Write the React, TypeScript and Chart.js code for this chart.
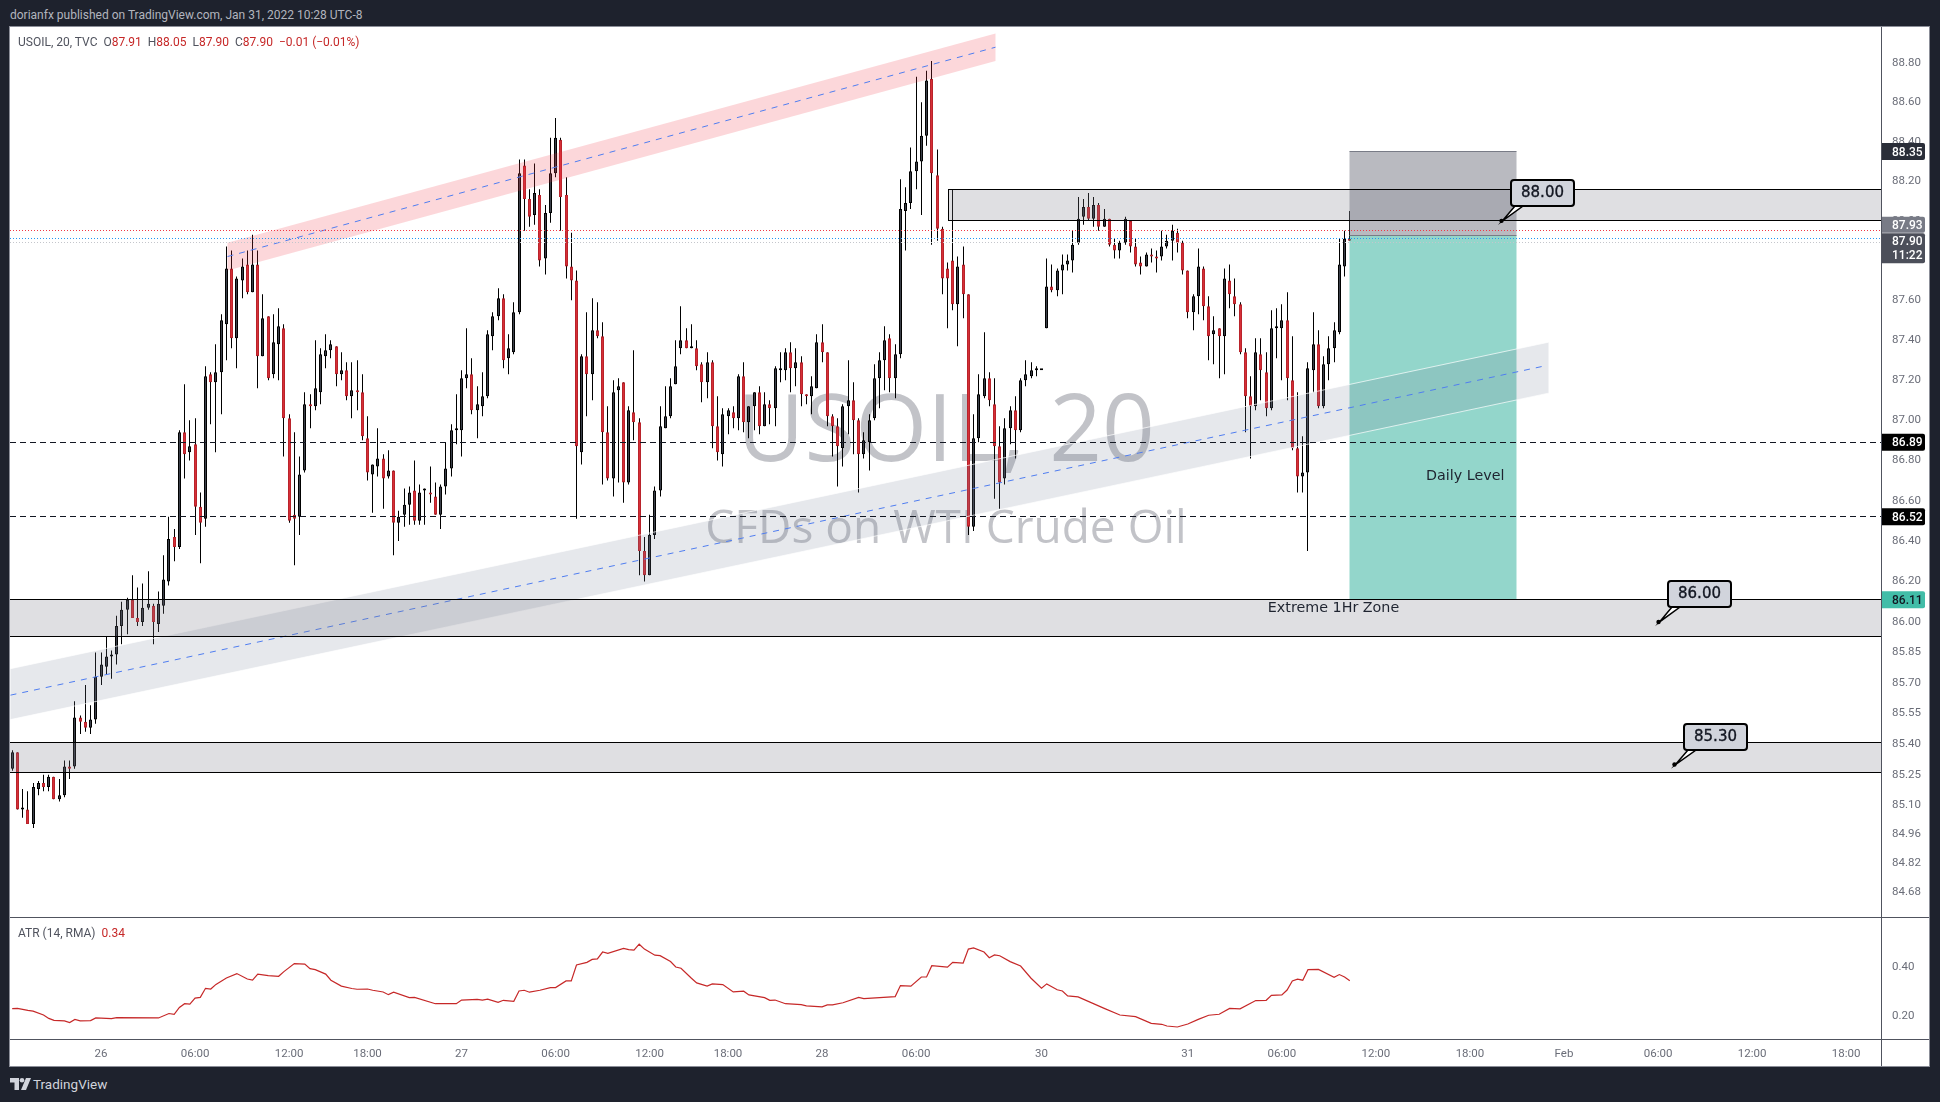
import { useEffect, useRef } from "react";
import { Chart, registerables } from "chart.js";

Chart.register(...registerables);

// 20 minute USOIL candles
const opens = [
  85.28,85.36,85.08,85.08,85.01,85.18,85.21,85.19,85.24,85.13,
  85.15,85.29,85.29,85.53,85.51,85.48,85.52,85.73,85.78,85.83,
  85.84,85.98,86.06,86.11,86.02,86.00,86.07,86.08,85.99,86.08,
  86.20,86.42,86.37,86.94,86.84,86.88,86.57,86.51,87.23,87.19,
  87.24,87.48,87.76,87.41,87.70,87.78,87.64,87.78,87.32,87.52,
  87.23,87.38,87.46,87.01,86.53,86.52,86.75,87.08,87.07,87.14,
  87.32,87.35,87.37,87.23,87.25,87.12,87.15,87.14,86.91,86.73,
  86.77,86.81,86.72,86.75,86.49,86.53,86.58,86.65,86.50,86.65,
  86.64,86.62,86.53,86.67,86.76,86.95,86.95,87.21,87.23,87.05,
  87.07,87.12,87.42,87.52,87.61,87.31,87.34,87.54,88.28,88.11,
  88.03,88.13,87.81,88.04,88.24,88.41,88.13,87.77,87.70,86.84,
  87.32,87.23,87.45,87.42,86.94,86.71,87.15,87.19,86.69,87.04,
  86.99,86.35,86.23,86.43,86.65,86.96,87.02,87.18,87.36,87.40,
  87.36,87.36,87.28,87.19,87.29,86.97,86.83,87.02,87.04,87.01,
  87.22,86.99,87.07,87.14,86.97,87.08,87.06,87.25,87.25,87.34,
  87.26,87.29,87.13,87.12,87.16,87.39,87.34,87.02,86.97,86.86,
  87.07,87.10,87.00,86.83,86.89,87.01,87.21,87.30,87.41,87.21,
  87.33,88.05,88.09,88.25,88.30,88.43,88.72,88.23,87.96,87.76,
  87.80,87.58,87.78,87.63,86.47,86.91,87.12,87.21,87.08,86.87,
  86.71,86.96,87.05,86.95,87.20,87.22,87.25,87.25,87.46,87.67,
  87.65,87.75,87.78,87.80,87.89,88.02,88.07,88.01,88.08,87.97,
  88.01,87.88,87.85,87.89,88.00,87.87,87.79,87.77,87.83,87.82,
  87.82,87.87,87.90,87.94,87.89,87.75,87.54,87.62,87.76,87.57,
  87.43,87.46,87.42,87.70,87.62,87.58,87.34,87.12,87.07,87.33,
  87.24,87.06,87.46,87.46,87.50,87.20,86.86,86.72,86.74,87.25,
  87.38,87.07,87.28,87.36,87.44,87.77,87.91,
];
const highs = [
  85.37,85.36,85.18,85.17,85.21,85.22,85.25,85.25,85.24,85.23,
  85.32,85.32,85.61,85.54,85.69,85.59,85.85,85.85,85.93,85.86,
  86.03,86.10,86.12,86.23,86.17,86.19,86.25,86.09,86.15,86.33,
  86.52,86.46,86.95,87.18,87.00,87.01,86.64,87.27,87.24,87.38,
  87.53,87.87,87.85,87.72,87.81,87.85,87.93,87.85,87.63,87.52,
  87.53,87.56,87.48,87.03,86.94,86.82,87.14,87.13,87.40,87.36,
  87.43,87.40,87.37,87.34,87.29,87.29,87.30,87.23,87.02,86.78,
  86.96,86.83,86.85,86.75,86.55,86.66,86.67,86.80,86.68,86.66,
  86.77,86.69,86.68,86.89,86.98,87.13,87.25,87.46,87.31,87.17,
  87.24,87.45,87.54,87.66,87.63,87.43,87.59,88.31,88.31,88.16,
  88.29,88.16,88.08,88.42,88.52,88.42,88.22,87.94,87.75,87.33,
  87.54,87.61,87.59,87.49,87.07,87.20,87.21,87.19,87.07,87.35,
  87.01,86.42,86.53,86.67,87.07,87.17,87.21,87.40,87.57,87.46,
  87.48,87.40,87.29,87.34,87.30,87.12,87.06,87.06,87.07,87.23,
  87.29,87.07,87.14,87.17,87.14,87.10,87.27,87.34,87.36,87.39,
  87.36,87.32,87.13,87.22,87.43,87.48,87.34,87.03,87.01,87.08,
  87.30,87.19,87.01,86.94,87.03,87.28,87.34,87.47,87.43,87.38,
  88.21,88.17,88.37,88.73,88.60,88.76,88.81,88.36,87.97,87.79,
  88.16,87.82,87.87,87.63,87.03,87.23,87.44,87.24,87.21,86.97,
  87.01,87.07,87.12,87.21,87.30,87.29,87.27,87.25,87.81,87.78,
  87.76,87.83,87.83,87.95,88.12,88.11,88.14,88.12,88.09,88.06,
  88.01,87.91,87.90,88.02,88.00,87.91,87.82,87.84,87.86,87.85,
  87.95,87.93,87.98,87.96,87.90,87.75,87.63,87.86,87.77,87.62,
  87.52,87.46,87.76,87.78,87.71,87.59,87.36,87.22,87.41,87.41,
  87.34,87.55,87.56,87.58,87.64,87.42,87.14,86.92,87.29,87.54,
  87.45,87.32,87.42,87.49,87.91,87.95,88.05,
];
const lows = [
  85.27,85.08,85.04,85.01,84.99,85.15,85.17,85.17,85.13,85.12,
  85.14,85.23,85.28,85.45,85.46,85.45,85.50,85.69,85.74,85.72,
  85.79,85.89,85.94,86.02,85.98,85.98,86.06,85.89,85.95,86.04,
  86.18,86.30,86.36,86.71,86.80,86.43,86.29,86.47,86.98,86.84,
  87.03,87.30,87.36,87.26,87.61,87.63,87.64,87.16,87.32,87.20,
  87.21,87.20,86.82,86.49,86.28,86.43,86.74,86.96,87.05,87.08,
  87.26,87.31,87.17,87.20,87.10,87.01,87.05,86.90,86.70,86.54,
  86.72,86.56,86.71,86.33,86.40,86.47,86.48,86.48,86.48,86.48,
  86.59,86.53,86.46,86.63,86.72,86.88,86.82,87.16,87.03,86.91,
  87.02,87.11,87.35,87.50,87.26,87.23,87.33,87.53,87.95,87.97,
  87.98,87.77,87.73,87.99,88.22,87.95,87.71,87.60,86.51,86.78,
  87.02,87.10,87.41,86.68,86.70,86.62,86.69,86.59,86.68,86.90,
  86.23,86.20,86.23,86.41,86.62,86.96,87.01,87.18,87.33,87.36,
  87.36,87.25,87.09,87.11,86.86,86.80,86.77,86.93,86.96,86.95,
  86.94,86.91,86.95,86.93,86.97,86.98,86.97,87.19,87.20,87.14,
  87.17,87.07,87.08,87.03,87.16,87.29,86.97,86.82,86.67,86.77,
  86.93,86.83,86.64,86.81,86.75,87.00,87.06,87.15,87.14,87.11,
  87.31,87.85,88.06,88.16,88.03,88.38,87.88,87.90,87.63,87.46,
  87.55,87.37,87.51,86.43,86.45,86.89,87.11,87.07,86.61,86.56,
  86.68,86.88,86.81,86.94,87.17,87.21,87.22,87.25,87.46,87.64,
  87.62,87.63,87.75,87.74,87.88,87.98,88.00,87.97,87.95,87.97,
  87.87,87.81,87.81,87.88,87.84,87.77,87.73,87.77,87.79,87.74,
  87.80,87.86,87.80,87.84,87.73,87.51,87.45,87.53,87.50,87.30,
  87.28,87.21,87.23,87.56,87.52,87.33,86.94,86.81,87.05,87.10,
  87.02,87.05,87.31,87.20,87.10,86.85,86.64,86.64,86.35,87.14,
  87.06,87.06,87.20,87.29,87.43,87.72,87.90,
];
const closes = [
  85.36,85.08,85.09,85.01,85.19,85.21,85.19,85.24,85.13,85.15,
  85.29,85.28,85.53,85.51,85.48,85.52,85.73,85.79,85.83,85.84,
  85.98,86.06,86.11,86.02,86.00,86.07,86.09,86.00,86.09,86.21,
  86.41,86.37,86.94,86.83,86.87,86.57,86.49,87.22,87.19,87.24,
  87.50,87.76,87.41,87.71,87.77,87.64,87.78,87.32,87.51,87.21,
  87.39,87.47,87.01,86.50,86.51,86.73,87.08,87.07,87.16,87.33,
  87.35,87.38,87.23,87.25,87.12,87.15,87.14,86.92,86.74,86.78,
  86.81,86.71,86.75,86.49,86.52,86.58,86.64,86.50,86.64,86.65,
  86.63,86.53,86.67,86.76,86.95,86.95,87.21,87.23,87.05,87.08,
  87.12,87.43,87.52,87.61,87.30,87.36,87.54,88.24,88.11,88.02,
  88.14,87.80,88.04,88.24,88.42,88.12,87.77,87.70,86.87,87.32,
  87.23,87.45,87.42,86.94,86.71,87.14,87.17,86.69,87.05,86.99,
  86.35,86.23,86.43,86.65,86.97,87.02,87.17,87.27,87.40,87.36,
  87.37,87.27,87.19,87.29,86.97,86.84,87.03,87.05,87.01,87.22,
  86.99,87.07,87.14,86.97,87.08,87.06,87.26,87.25,87.34,87.26,
  87.29,87.13,87.12,87.17,87.39,87.34,87.02,86.97,86.87,87.07,
  87.10,87.00,86.83,86.90,87.00,87.21,87.30,87.40,87.21,87.33,
  88.06,88.09,88.25,88.30,88.43,88.71,88.24,87.96,87.71,87.71,
  87.58,87.77,87.63,86.47,86.91,87.13,87.21,87.10,86.87,86.69,
  86.96,87.05,86.95,87.20,87.23,87.25,87.25,87.25,87.67,87.65,
  87.75,87.78,87.80,87.88,88.01,88.07,88.01,88.08,87.97,88.01,
  87.88,87.85,87.89,88.01,87.87,87.78,87.77,87.83,87.82,87.81,
  87.87,87.90,87.95,87.89,87.75,87.54,87.62,87.77,87.57,87.42,
  87.45,87.42,87.71,87.63,87.58,87.34,87.12,87.07,87.34,87.25,
  87.06,87.46,87.46,87.50,87.21,86.86,86.72,86.74,87.26,87.38,
  87.07,87.28,87.36,87.45,87.78,87.91,87.90,
];

// ATR pane, vertices of the line as bar number / value
const atrBars = [
  0,1,3,4,6,7,8,10,11,12,13,15,16,19,20,28,30,31,32,33,34,35,36,37,38,39,41,43,45,46,47,49,51,52,54,56,57,58,60,61,
  63,65,66,68,69,71,72,73,76,77,81,85,86,89,90,91,93,94,96,97,98,99,101,103,104,106,107,108,110,111,112,113,114,117,118,119,120,121,123,124,
  126,127,128,130,131,133,134,136,138,140,141,144,145,146,148,151,152,155,156,157,159,162,163,169,170,172,174,175,176,179,180,182,183,184,186,187,188,189,191,193,
  195,197,198,200,201,202,204,209,212,215,218,220,221,223,225,227,229,231,233,235,238,240,241,243,244,245,246,247,248,250,253,254,255,256,
];
const atrValues = [
  .230,.231,.223,.220,.204,.190,.182,.180,.173,.186,.180,.181,.192,.189,.193,.192,.210,.207,.235,.250,.248,.273,.276,.313,.310,.329,.355,.373,.351,.346,.371,.365,.362,.381,.414,.412,.393,.389,.371,.346,
  .322,.312,.309,.310,.305,.298,.287,.297,.275,.276,.250,.250,.265,.268,.265,.269,.256,.264,.260,.302,.305,.297,.305,.316,.316,.343,.343,.408,.419,.431,.433,.461,.456,.476,.471,.469,.493,.473,.448,.446,
  .422,.400,.395,.354,.335,.322,.331,.328,.298,.301,.286,.275,.264,.265,.250,.246,.241,.237,.245,.245,.254,.276,.271,.279,.324,.322,.359,.359,.405,.399,.419,.416,.473,.478,.461,.438,.449,.446,.422,.404,
  .354,.313,.331,.307,.302,.282,.278,.231,.204,.197,.170,.166,.159,.155,.167,.186,.203,.207,.231,.229,.263,.264,.284,.286,.306,.343,.350,.346,.389,.390,.358,.369,.359,.344,
];

const priceTicks = [88.8,88.6,88.4,88.2,88,87.8,87.6,87.4,87.2,87,86.8,86.6,86.4,86.2,86,85.85,85.7,85.55,85.4,85.25,85.1,84.96,84.82,84.68];
const atrTicks = [0.4, 0.2];
const timeTickBars = [17,35,53,68,86,104,122,137,155,173,197,225,243,261,279,297,315,333,351];
const timeTickLabels = ["26","06:00","12:00","18:00","27","06:00","12:00","18:00","28","06:00","30","31","06:00","12:00","18:00","Feb","06:00","12:00","18:00"];

// drawings on the chart, in bars and prices
const zoneHighs = [88.16, 86.11, 85.41];
const zoneLows = [88.0, 85.93, 85.26];
const zoneStartBars = [179.2, -1, -1];
const dashedLevels = [86.89, 86.52];
const dottedLevels = [87.95, 87.91, 87.89];
const dottedColors = ["#f23645", "#2196f3", "#c4c6cc"];
const positionBars = [256, 288];
const positionStop = 88.35;
const positionEntry = 87.925;
const positionTarget = 86.11;
const greyBandBars = [-0.42, 294];
const greyBandTops = [85.77, 87.39];
const greyBandBottoms = [85.52, 87.135];
const greyBandMids = [85.64, 87.27];
const pinkBandBars = [41.2, 188.1];
const pinkBandTops = [87.89, 88.95];
const pinkBandBottoms = [87.75, 88.81];
const pinkBandMids = [87.82, 88.88];
const calloutBars = [285.1, 315.1, 318.1];
const calloutPrices = [88.0, 86.0, 85.3];
const calloutTexts = ["88.00", "86.00", "85.30"];

const FONT = "Roboto, sans-serif";
const TICK_COLOR = "#6a6d78";
const AXIS_WIDTH = 47;
const BAR_MIN = -0.42;
const BAR_MAX = 357.86;

const upDown = closes.map((c, i) => c >= opens[i]);

function band(ctx: any, x: any, y: any, bars: number[], tops: number[], bottoms: number[], fill: string, edge: string | null) {
  const x0 = x.getPixelForValue(bars[0]);
  const x1 = x.getPixelForValue(bars[1]);
  ctx.fillStyle = fill;
  ctx.beginPath();
  ctx.moveTo(x0, y.getPixelForValue(tops[0]));
  ctx.lineTo(x1, y.getPixelForValue(tops[1]));
  ctx.lineTo(x1, y.getPixelForValue(bottoms[1]));
  ctx.lineTo(x0, y.getPixelForValue(bottoms[0]));
  ctx.closePath();
  ctx.fill();
  if (edge) {
    ctx.strokeStyle = edge;
    ctx.lineWidth = 1;
    ctx.beginPath();
    ctx.moveTo(x0, y.getPixelForValue(tops[0]));
    ctx.lineTo(x1, y.getPixelForValue(tops[1]));
    ctx.moveTo(x0, y.getPixelForValue(bottoms[0]));
    ctx.lineTo(x1, y.getPixelForValue(bottoms[1]));
    ctx.stroke();
  }
}

function midLine(ctx: any, x: any, y: any, bars: number[], mids: number[]) {
  ctx.strokeStyle = "#4f7df0";
  ctx.lineWidth = 1;
  ctx.setLineDash([6, 6]);
  ctx.beginPath();
  ctx.moveTo(x.getPixelForValue(bars[0]), y.getPixelForValue(mids[0]));
  ctx.lineTo(x.getPixelForValue(bars[1]), y.getPixelForValue(mids[1]));
  ctx.stroke();
  ctx.setLineDash([]);
}

// the axes must not pull the plot area in for half a tick label
const noOverhang = (s: any) => {
  s.paddingTop = 0;
  s.paddingBottom = 0;
  s.paddingLeft = 0;
  s.paddingRight = 0;
};

const crispBars = {
  id: "crispBars",
  afterLayout(chart: any) {
    const s = chart.scales.x;
    const raw = s.getPixelForValue.bind(s);
    s.getPixelForValue = (v: number) => Math.round(raw(v) - 0.5) + 0.5;
  },
};

const watermark = {
  id: "watermark",
  beforeDatasetsDraw(chart: any) {
    const { ctx, chartArea } = chart;
    const cx = (chartArea.left + chartArea.right) / 2;
    ctx.save();
    ctx.fillStyle = "rgba(120,123,134,0.45)";
    ctx.textAlign = "center";
    ctx.textBaseline = "alphabetic";
    ctx.font = "92.5px 'Open Sans', sans-serif";
    ctx.fillText("USOIL, 20", cx, 434);
    ctx.font = "46px 'Open Sans', sans-serif";
    ctx.fillText("CFDs on WTI Crude Oil", cx, 516);
    ctx.restore();
  },
};

const drawings = {
  id: "drawings",
  afterDatasetsDraw(chart: any) {
    const { ctx, chartArea, scales } = chart;
    const x = scales.x;
    const y = scales.y;
    const crisp = (p: number) => Math.round(y.getPixelForValue(p) - 0.5) + 0.5;
    ctx.save();
    ctx.beginPath();
    ctx.rect(chartArea.left, chartArea.top, chartArea.width, chartArea.height);
    ctx.clip();

    // short position box
    const px0 = x.getPixelForValue(positionBars[0]);
    const px1 = x.getPixelForValue(positionBars[1]);
    ctx.fillStyle = "rgba(120,123,134,0.52)";
    ctx.fillRect(px0, crisp(positionStop), px1 - px0, crisp(positionEntry) - crisp(positionStop));
    ctx.fillStyle = "rgba(34,171,148,0.49)";
    ctx.fillRect(px0, crisp(positionEntry), px1 - px0, crisp(positionTarget) - crisp(positionEntry));
    ctx.strokeStyle = "#787b86";
    ctx.lineWidth = 1;
    ctx.beginPath();
    ctx.moveTo(px0, crisp(positionStop));
    ctx.lineTo(px1, crisp(positionStop));
    ctx.moveTo(px0, crisp(positionEntry));
    ctx.lineTo(px1, crisp(positionEntry));
    ctx.stroke();

    // trend channels
    band(ctx, x, y, pinkBandBars, pinkBandTops, pinkBandBottoms, "rgba(242,54,69,0.2)", null);
    band(ctx, x, y, greyBandBars, greyBandTops, greyBandBottoms, "rgba(117,125,150,0.18)", "rgba(255,255,255,0.7)");
    midLine(ctx, x, y, pinkBandBars, pinkBandMids);
    midLine(ctx, x, y, [greyBandBars[0], 293.1], greyBandMids);

    // grey zones
    zoneHighs.forEach((hi, i) => {
      const left = zoneStartBars[i] < 0 ? chartArea.left - 2 : x.getPixelForValue(zoneStartBars[i]);
      const top = crisp(hi);
      const bottom = crisp(zoneLows[i]);
      ctx.fillStyle = "rgba(120,123,134,0.24)";
      ctx.fillRect(left, top, chartArea.right + 2 - left, bottom - top);
      ctx.strokeStyle = "#000";
      ctx.lineWidth = 1;
      ctx.strokeRect(left, top, chartArea.right + 2 - left, bottom - top);
    });

    // horizontal levels
    ctx.strokeStyle = "#131722";
    ctx.setLineDash([6, 4]);
    dashedLevels.forEach((p) => {
      ctx.beginPath();
      ctx.moveTo(chartArea.left, crisp(p));
      ctx.lineTo(chartArea.right, crisp(p));
      ctx.stroke();
    });
    ctx.setLineDash([1, 2]);
    dottedLevels.forEach((p, i) => {
      ctx.strokeStyle = dottedColors[i];
      ctx.beginPath();
      ctx.moveTo(chartArea.left, crisp(p));
      ctx.lineTo(chartArea.right, crisp(p));
      ctx.stroke();
    });
    ctx.setLineDash([]);

    // notes
    ctx.fillStyle = "#1f2430";
    ctx.font = "14.3px 'DejaVu Sans', sans-serif";
    ctx.textBaseline = "middle";
    ctx.textAlign = "right";
    ctx.fillText("Daily Level", x.getPixelForValue(285.6), y.getPixelForValue(86.722));
    ctx.textAlign = "center";
    ctx.fillText("Extreme 1Hr Zone", x.getPixelForValue(252.8), y.getPixelForValue(86.065));

    // callouts
    calloutTexts.forEach((text, i) => {
      const ax = x.getPixelForValue(calloutBars[i]);
      const ay = y.getPixelForValue(calloutPrices[i]);
      const bx = Math.round(ax + 9.5);
      const by = Math.round(ay - 40.5);
      ctx.lineWidth = 1.5;
      ctx.strokeStyle = "#000";
      ctx.fillStyle = "#fff";
      ctx.beginPath();
      ctx.moveTo(ax + 1, ay);
      ctx.lineTo(bx + 4, by + 26);
      ctx.lineTo(bx + 12, by + 26);
      ctx.closePath();
      ctx.fill();
      ctx.stroke();
      ctx.fillStyle = "#000";
      ctx.beginPath();
      ctx.arc(ax, ay, 2.2, 0, Math.PI * 2);
      ctx.fill();
      ctx.lineWidth = 2;
      ctx.fillStyle = "#d1d4dc";
      ctx.beginPath();
      ctx.roundRect(bx, by, 63, 26, 3);
      ctx.fill();
      ctx.stroke();
      ctx.fillStyle = "#131722";
      ctx.strokeStyle = "#131722";
      ctx.lineWidth = 0.35;
      ctx.font = "15px 'DejaVu Sans', sans-serif";
      ctx.textAlign = "center";
      ctx.textBaseline = "middle";
      ctx.fillText(text, bx + 31.5, by + 13.5);
      ctx.strokeText(text, bx + 31.5, by + 13.5);
    });
    ctx.restore();
  },
  afterDraw(chart: any) {
    const { ctx, chartArea, scales } = chart;
    const y = scales.y;
    const tag = (price: number, shift: number, h: number, fill: string, color: string, lines: string[]) => {
      const cy = y.getPixelForValue(price) + shift;
      ctx.fillStyle = fill;
      ctx.beginPath();
      ctx.roundRect(chartArea.right, cy - h / 2, 43, h, [0, 2, 2, 0]);
      ctx.fill();
      ctx.fillStyle = color;
      ctx.font = `500 12px ${FONT}`;
      ctx.textAlign = "left";
      ctx.textBaseline = "middle";
      lines.forEach((t, i) => ctx.fillText(t, chartArea.right + 10, cy - ((lines.length - 1) * 14) / 2 + i * 14 + 1));
    };
    ctx.save();
    tag(88.35, 0, 17, "#2a2e39", "#fff", ["88.35"]);
    tag(87.93, -10, 16, "#787b86", "#fff", ["87.93"]);
    tag(87.9, 7.5, 30, "#4c4f5a", "#fff", ["87.90", "11:22"]);
    tag(86.89, 0, 17, "#000", "#fff", ["86.89"]);
    tag(86.52, 0, 17, "#000", "#fff", ["86.52"]);
    tag(86.11, 0, 17, "#42bda8", "#131722", ["86.11"]);
    ctx.restore();
  },
};

function MainChart() {
  const canvasRef = useRef<HTMLCanvasElement>(null);

  useEffect(() => {
    if (!canvasRef.current) return;
    const chart = new Chart(canvasRef.current, {
      type: "bar",
      data: {
        datasets: [
          {
            label: "body",
            data: opens.map((o, i) => ({ x: i, y: [Math.min(o, closes[i]), Math.max(o, closes[i])] })),
            backgroundColor: upDown.map((up) => (up ? "#3b3f49" : "#d62f37")),
            borderColor: upDown.map((up) => (up ? "#000000" : "#b9232b")),
            borderWidth: 1,
            borderSkipped: false,
            inflateAmount: 0,
            minBarLength: 2,
            maxBarThickness: 3,
            barPercentage: 1,
            categoryPercentage: 1,
            grouped: false,
          },
          {
            label: "wick",
            data: lows.map((l, i) => ({ x: i, y: [l, highs[i]] })),
            backgroundColor: "#000000",
            borderWidth: 0,
            inflateAmount: 0,
            maxBarThickness: 1,
            barPercentage: 1,
            categoryPercentage: 1,
            grouped: false,
          },
        ] as any,
      },
      options: {
        responsive: false,
        animation: false,
        layout: { padding: 0 },
        plugins: { legend: { display: false }, tooltip: { enabled: false } },
        scales: {
          x: { type: "linear", display: false, offset: false, min: BAR_MIN, max: BAR_MAX, bounds: "data" },
          y: {
            type: "logarithmic",
            position: "right",
            min: 84.558,
            max: 88.983,
            bounds: "data",
            grid: { display: false, drawTicks: false },
            border: { display: false },
            afterFit: (s: any) => { s.width = AXIS_WIDTH; noOverhang(s); },
            afterBuildTicks: (s: any) => { s.ticks = priceTicks.map((v) => ({ value: v })); },
            ticks: {
              callback: (v: any) => Number(v).toFixed(2),
              autoSkip: false,
              maxRotation: 0,
              padding: 10,
              color: TICK_COLOR,
              font: { family: FONT, size: 11.5 },
            },
          },
        },
      } as any,
      plugins: [crispBars, watermark, drawings],
    });
    return () => chart.destroy();
  }, []);

  return <canvas ref={canvasRef} width={1919} height={890} style={{ position: "absolute", left: 10, top: 27 }} />;
}

function AtrChart() {
  const canvasRef = useRef<HTMLCanvasElement>(null);

  useEffect(() => {
    if (!canvasRef.current) return;
    const chart = new Chart(canvasRef.current, {
      type: "line",
      data: {
        datasets: [
          {
            label: "ATR",
            data: atrBars.map((b, i) => ({ x: b, y: atrValues[i] })),
            borderColor: "#c62828",
            borderWidth: 1.2,
            pointRadius: 0,
            tension: 0,
          },
        ],
      },
      options: {
        responsive: false,
        animation: false,
        layout: { padding: 0 },
        plugins: { legend: { display: false }, tooltip: { enabled: false } },
        scales: {
          x: {
            type: "linear",
            min: BAR_MIN,
            max: BAR_MAX,
            bounds: "data",
            grid: { display: false, drawTicks: false },
            border: { display: false },
            afterFit: (s: any) => { s.height = 27; noOverhang(s); },
            afterBuildTicks: (s: any) => { s.ticks = timeTickBars.map((v) => ({ value: v })); },
            ticks: {
              callback: (v: any) => timeTickLabels[timeTickBars.indexOf(Number(v))],
              autoSkip: false,
              maxRotation: 0,
              padding: 8,
              color: TICK_COLOR,
              font: { family: FONT, size: 11.5 },
            },
          },
          y: {
            position: "right",
            min: 0.106,
            max: 0.604,
            bounds: "data",
            grid: { display: false, drawTicks: false },
            border: { display: false },
            afterFit: (s: any) => { s.width = AXIS_WIDTH; noOverhang(s); },
            afterBuildTicks: (s: any) => { s.ticks = atrTicks.map((v) => ({ value: v })); },
            ticks: {
              callback: (v: any) => Number(v).toFixed(2),
              autoSkip: false,
              maxRotation: 0,
              padding: 10,
              color: TICK_COLOR,
              font: { family: FONT, size: 11.5 },
            },
          },
        },
      } as any,
    });
    return () => chart.destroy();
  }, []);

  return <canvas ref={canvasRef} width={1919} height={149} style={{ position: "absolute", left: 10, top: 917 }} />;
}

const lineStyle = (left: number, top: number, width: number, height: number): any => ({
  position: "absolute",
  left,
  top,
  width,
  height,
  background: "#50535e",
});

const textStyle = (left: number, top: number, color: string, size = 12): any => ({
  position: "absolute",
  left,
  top,
  color,
  fontFamily: FONT,
  fontSize: size,
  lineHeight: "16px",
  whiteSpace: "pre",
});

export default function App() {
  const red = { color: "#c62828" };
  return (
    <div style={{ position: "absolute", left: 0, top: 0, width: 1940, height: 1102, background: "#1e222d", overflow: "hidden" }}>
      <div style={{ position: "absolute", left: 9, top: 26, width: 1921, height: 1041, boxSizing: "border-box", border: "1px solid #8b8e98", background: "#fff" }} />
      <MainChart />
      <AtrChart />
      <div style={lineStyle(1881, 27, 1, 1039)} />
      <div style={lineStyle(10, 917, 1919, 1)} />
      <div style={lineStyle(10, 1039, 1919, 1)} />
      <div style={textStyle(10, 7, "#b2b5be")}>dorianfx published on TradingView.com, Jan 31, 2022 10:28 UTC-8</div>
      <div style={textStyle(18, 34, "#50535e")}>
        USOIL, 20, TVC{"  "}O<span style={red}>87.91</span>{"  "}H<span style={red}>88.05</span>{"  "}L<span style={red}>87.90</span>{"  "}C<span style={red}>87.90</span>{"  "}<span style={red}>−0.01 (−0.01%)</span>
      </div>
      <div style={textStyle(18, 925, "#50535e")}>
        ATR (14, RMA){"  "}<span style={red}>0.34</span>
      </div>
      <svg style={{ position: "absolute", left: 10, top: 1078 }} width="21" height="12" viewBox="0 0 21 12">
        <path d="M0 0h9v12H4.5V4.5H0z" fill="#d1d4dc" />
        <circle cx="12" cy="2.3" r="2.3" fill="#d1d4dc" />
        <path d="M16 0h5l-5 12h-5z" fill="#d1d4dc" />
      </svg>
      <div style={textStyle(33, 1076, "#d1d4dc", 13.5)}>TradingView</div>
    </div>
  );
}
